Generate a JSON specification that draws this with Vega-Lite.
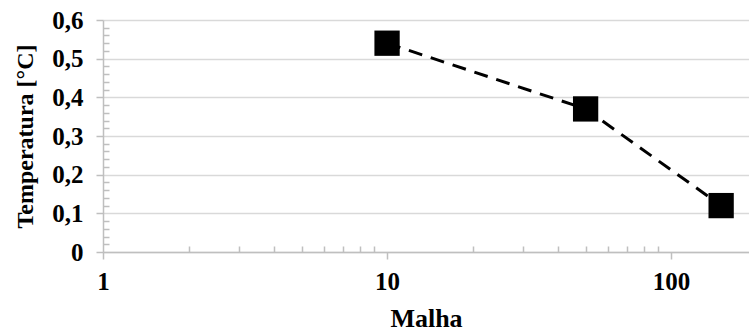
{
  "$schema": "https://vega.github.io/schema/vega-lite/v6.json",
  "width": 646,
  "height": 232,
  "autosize": "none",
  "padding": {"left": 103, "top": 20, "right": 0, "bottom": 81},
  "background": "white",
  "data": {"values": [
    {"Malha": 10, "Temperatura": 0.54},
    {"Malha": 50, "Temperatura": 0.37},
    {"Malha": 150, "Temperatura": 0.12}
  ]},
  "config": {
    "view": {"stroke": null},
    "axis": {
      "labelFont": "Liberation Serif",
      "titleFont": "Liberation Serif",
      "labelFontWeight": "bold",
      "titleFontWeight": "bold",
      "labelColor": "black",
      "titleColor": "black",
      "labelFontSize": 25,
      "titleFontSize": 26,
      "domainColor": "#bfbfbf",
      "tickColor": "#bfbfbf",
      "gridColor": "#d9d9d9",
      "domainWidth": 1.5,
      "tickWidth": 1.5,
      "gridWidth": 1.5
    }
  },
  "layer": [
    {
      "mark": {"type": "line", "color": "black", "strokeWidth": 3, "strokeDash": [14, 9]},
      "encoding": {
        "x": {
          "field": "Malha", "type": "quantitative",
          "scale": {"type": "log", "domain": [1, 188], "nice": false},
          "axis": {"values": [1, 10, 100], "title": "Malha", "grid": false, "tickSize": 7, "labelPadding": 10, "titlePadding": 11, "format": "d", "orient": "bottom", "labelFlush": false}
        },
        "y": {
          "field": "Temperatura", "type": "quantitative",
          "scale": {"domain": [0, 0.6], "nice": false},
          "axis": {"values": [0, 0.1, 0.2, 0.3, 0.4, 0.5, 0.6], "title": "Temperatura  [°C]", "titleFontSize": 24, "grid": true, "tickSize": 7, "labelPadding": 13, "titlePadding": 14, "orient": "left", "labelFlush": false,
            "labelExpr": "datum.value == 0 ? '0' : replace(format(datum.value, '.1f'), '.', ',')"}
        }
      }
    },
    {
      "mark": {"type": "point", "shape": "square", "filled": true, "color": "black", "size": 640, "opacity": 1},
      "encoding": {
        "x": {"field": "Malha", "type": "quantitative", "axis": null},
        "y": {"field": "Temperatura", "type": "quantitative", "axis": null}
      }
    },
    {
      "mark": {"type": "point", "opacity": 0},
      "encoding": {
        "x": {"field": "Malha", "type": "quantitative",
          "axis": {"values": [2, 3, 4, 5, 6, 7, 8, 9, 20, 30, 40, 50, 60, 70, 80, 90], "labels": false, "title": null, "domain": false, "grid": false, "tickSize": -6, "orient": "bottom"}},
        "y": {"field": "Temperatura", "type": "quantitative",
          "axis": {"values": [0.02, 0.04, 0.06, 0.08, 0.12, 0.14, 0.16, 0.18, 0.22, 0.24, 0.26, 0.28, 0.32, 0.34, 0.36, 0.38, 0.42, 0.44, 0.46, 0.48, 0.52, 0.54, 0.56, 0.58], "labels": false, "title": null, "domain": false, "grid": false, "tickSize": -6, "orient": "left"}}
      }
    }
  ],
  "resolve": {"axis": {"x": "independent", "y": "independent"}}
}
